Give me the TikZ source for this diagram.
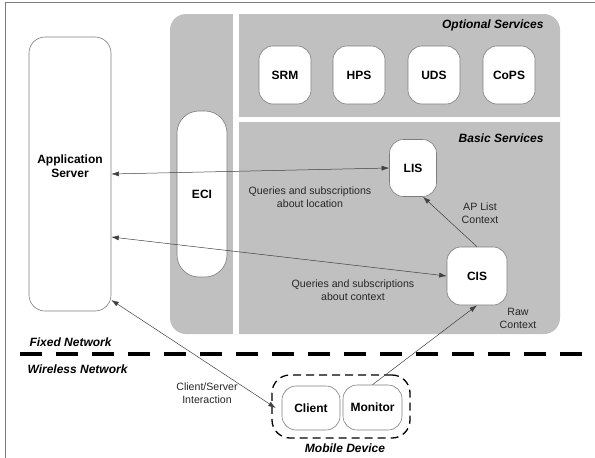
\documentclass[tikz,border=0pt]{standalone}
\usepackage{fontspec}
\setmainfont{Liberation Sans}
\usetikzlibrary{positioning,arrows.meta,calc}
\definecolor{svcgray}{RGB}{192,192,192}
\definecolor{edgegray}{RGB}{125,125,125}

\begin{document}
\begin{tikzpicture}[x=1pt, y=-1pt,
  every node/.style={font=\fontsize{10.5}{12.5}\selectfont},
  sbox/.style={draw=edgegray, fill=white, rounded corners=14pt, line width=0.6pt,
               font=\fontsize{12}{14.5}\selectfont\bfseries, align=center, inner sep=0pt},
  note/.style={align=center, font=\fontsize{10.6}{13}\selectfont, text=black!85},
  area/.style={font=\fontsize{12}{14}\selectfont\bfseries\itshape},
  link/.style={line width=0.5pt, black!75,
               {Latex[length=7.5pt,width=5pt]}-{Latex[length=7.5pt,width=5pt]}},
  feed/.style={line width=0.5pt, black!75, -{Latex[length=7.5pt,width=5pt]}}]

  \useasboundingbox (0,0) rectangle (595,458);
  \draw[edgegray, line width=0.8pt] (5.5,458) -- (5.5,2.5) -- (595,2.5);

  % service platform
  \fill[svcgray, rounded corners=16pt] (170,14) rectangle (560,334);
  \fill[white] (233,14) rectangle (239,334);
  \fill[white] (239,117) rectangle (560,122);
  \node[area, anchor=east] (opt) at (547,25) {Optional Services};
  \node[area, anchor=east] (bas) at (547,138) {Basic Services};

  \node[sbox, minimum width=82pt, minimum height=274pt, rounded corners=16pt] (app) at (70,174)
    {Application\\Server\\[1.5pt]};
  \node[sbox, minimum width=50pt, minimum height=166pt, rounded corners=22pt] (eci) at (202,194)
    {ECI};

  % optional services
  \node[sbox, minimum width=52pt, minimum height=58pt] (srm)  at (285,75) {SRM};
  \node[sbox, minimum width=52pt, minimum height=58pt] (hps)  at (359,75) {HPS};
  \node[sbox, minimum width=52pt, minimum height=58pt] (uds)  at (434,75) {UDS};
  \node[sbox, minimum width=52pt, minimum height=58pt] (cops) at (509,75) {CoPS};

  % basic services
  \node[sbox, minimum width=47pt, minimum height=57pt] (lis) at (413,168) {LIS};
  \node[sbox, minimum width=60pt, minimum height=58pt] (cis) at (477,276) {CIS};

  % network split
  \draw[line width=3.5pt, dash pattern=on 22pt off 14pt] (20,354) -- (588,354);
  \node[area, anchor=west] (fixed) at (26,342) {Fixed Network};
  \node[area, anchor=west] (wless) at (24,369) {Wireless Network};

  % mobile device
  \node[draw, line width=1.3pt, dash pattern=on 8pt off 5pt, rounded corners=18pt,
        minimum width=138pt, minimum height=63pt] (mob) at (341,406.5) {};
  \node[area] (moblbl) at (345,448) {Mobile Device};
  \node[sbox, minimum width=58pt, minimum height=44pt] (cli) at (311,408) {Client};
  \node[sbox, minimum width=59pt, minimum height=45pt] (mon) at (372.5,407.5) {Monitor};

  % connectors
  \draw[link] (app.east) -- (lis.west);
  \draw[link] ([yshift=-63pt]app.east) -- (cis.west);
  \draw[link] ([yshift=-126pt]app.east) -- ([xshift=-6pt]cli.west);
  \draw[feed] (cis.north) -- ([xshift=10pt]lis.south);
  \draw[feed] (mon.north) -- (cis.south);

  \node[note] (q1) at (310,197) {Queries and subscriptions\\about location};
  \node[note] (q2) at (353,290.5) {Queries and subscriptions\\about context};
  \node[note] (apl) at (480,213) {AP List\\Context};
  \node[note] (raw) at (518,318) {Raw\\Context};
  \node[note] (cs) at (207,393) {Client/Server\\Interaction};
\end{tikzpicture}
\end{document}
